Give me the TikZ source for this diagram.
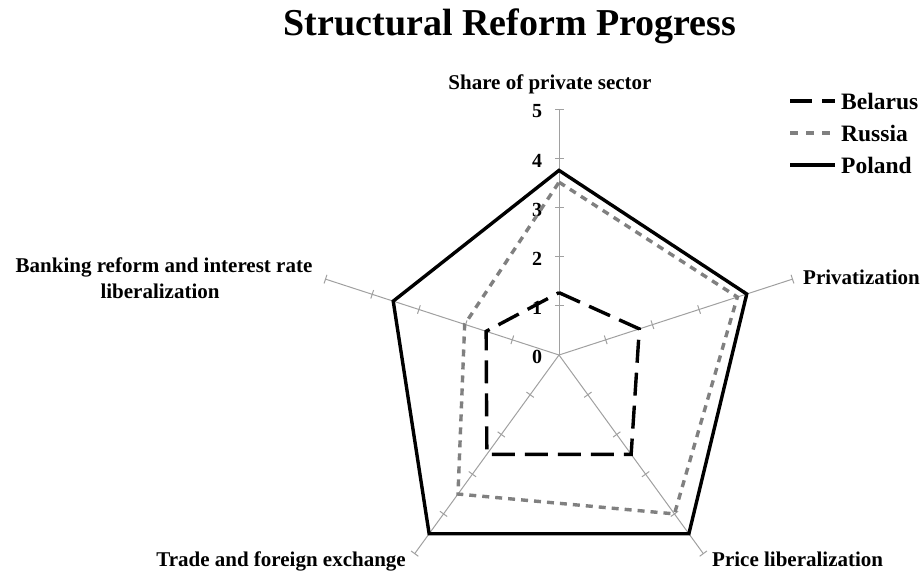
\documentclass[tikz,border=0pt]{standalone}
\usepackage{fontspec}
\setmainfont{Liberation Serif}
\usetikzlibrary{calc}
\definecolor{axisgray}{HTML}{A0A0A0}
\definecolor{rusgray}{HTML}{808080}
\begin{document}
\begin{tikzpicture}[x=1pt,y=-1pt,
  axisline/.style={draw=axisgray, line width=1pt},
  belarusline/.style={draw=black, line width=3.4pt, dash pattern=on 23pt off 10pt},
  russialine/.style={draw=rusgray, line width=3.4pt, dash pattern=on 7pt off 6pt},
  polandline/.style={draw=black, line width=3.4pt},
  axislabel/.style={font=\fontsize{21}{26}\selectfont\bfseries, inner sep=0pt},
  numlabel/.style={font=\fontsize{20}{20}\selectfont\bfseries, inner sep=0pt},
  legendlabel/.style={font=\fontsize{23.5}{26}\selectfont\bfseries, inner sep=0pt, anchor=base west},
  titlestyle/.style={font=\fontsize{38}{40}\selectfont\bfseries, inner sep=0pt, anchor=base}]
\useasboundingbox (0,0) rectangle (924,571);
\def\u{49.1}
\coordinate (C) at (559,355);
% axes with tick marks
\foreach \a/\n in {-90/s, -18/p, 54/pl, 126/t, 198/b} {
  \coordinate (end\n) at ($(C)+(\a:{5*\u})$);
  \draw[axisline] (C) -- (end\n);
  \foreach \k in {1,...,5} {
    \coordinate (tk\n\k) at ($(C)+(\a:{\k*\u})$);
    \draw[axisline] ($(tk\n\k)+({\a+90}:4.5)$) -- ($(tk\n\k)+({\a-90}:4.5)$);
  }
}
% scale numbers
\foreach \k in {0,...,5} {
  \node[numlabel] (num\k) at (537,{355-\k*\u+2}) {\k};
}
% data points
\foreach \nm/\vs/\vp/\vpl/\vt/\vb in {be/1.27/1.72/2.5/2.5/1.56, ru/3.52/3.82/4.0/3.5/2.02, po/3.76/4.02/4.5/4.5/3.55} {
  \coordinate (\nm1) at ($(C)+(-90:{\vs*\u})$);
  \coordinate (\nm2) at ($(C)+(-18:{\vp*\u})$);
  \coordinate (\nm3) at ($(C)+(54:{\vpl*\u})$);
  \coordinate (\nm4) at ($(C)+(126:{\vt*\u})$);
  \coordinate (\nm5) at ($(C)+(198:{\vb*\u})$);
}
\draw[belarusline] (be1) -- (be2) -- (be3) -- (be4) -- (be5) -- cycle;
\draw[russialine] (ru1) -- (ru2) -- (ru3) -- (ru4) -- (ru5) -- cycle;
\draw[polandline] (po1) -- (po2) -- (po3) -- (po4) -- (po5) -- cycle;
% title
\node[titlestyle] (title) at (510,35) {Structural Reform Progress};
% axis labels
\node[axislabel, anchor=base] (lshare) at (550,89) {Share of private sector};
\node[axislabel, anchor=base west] (lpriv) at (803,284) {Privatization};
\node[axislabel, anchor=base] (lbank1) at (164,272) {Banking reform and interest rate};
\node[axislabel, anchor=base] (lbank2) at (160,298) {liberalization};
\node[axislabel, anchor=base east] (ltrade) at (406,566) {Trade and foreign exchange};
\node[axislabel, anchor=base west] (lprice) at (712,566) {Price liberalization};
% legend
\coordinate (lgb1) at (790,101); \coordinate (lgb2) at (835,101);
\coordinate (lgr1) at (790,133); \coordinate (lgr2) at (835,133);
\coordinate (lgp1) at (790,165); \coordinate (lgp2) at (835,165);
\draw[belarusline, dash pattern=on 22pt off 10pt] (lgb1) -- (lgb2);
\draw[russialine, dash pattern=on 8pt off 8pt] (lgr1) -- (lgr2);
\draw[polandline] (lgp1) -- (lgp2);
\node[legendlabel] (legbe) at (841,109) {Belarus};
\node[legendlabel] (legru) at (841,141) {Russia};
\node[legendlabel] (legpo) at (841,173) {Poland};
\end{tikzpicture}
\end{document}
